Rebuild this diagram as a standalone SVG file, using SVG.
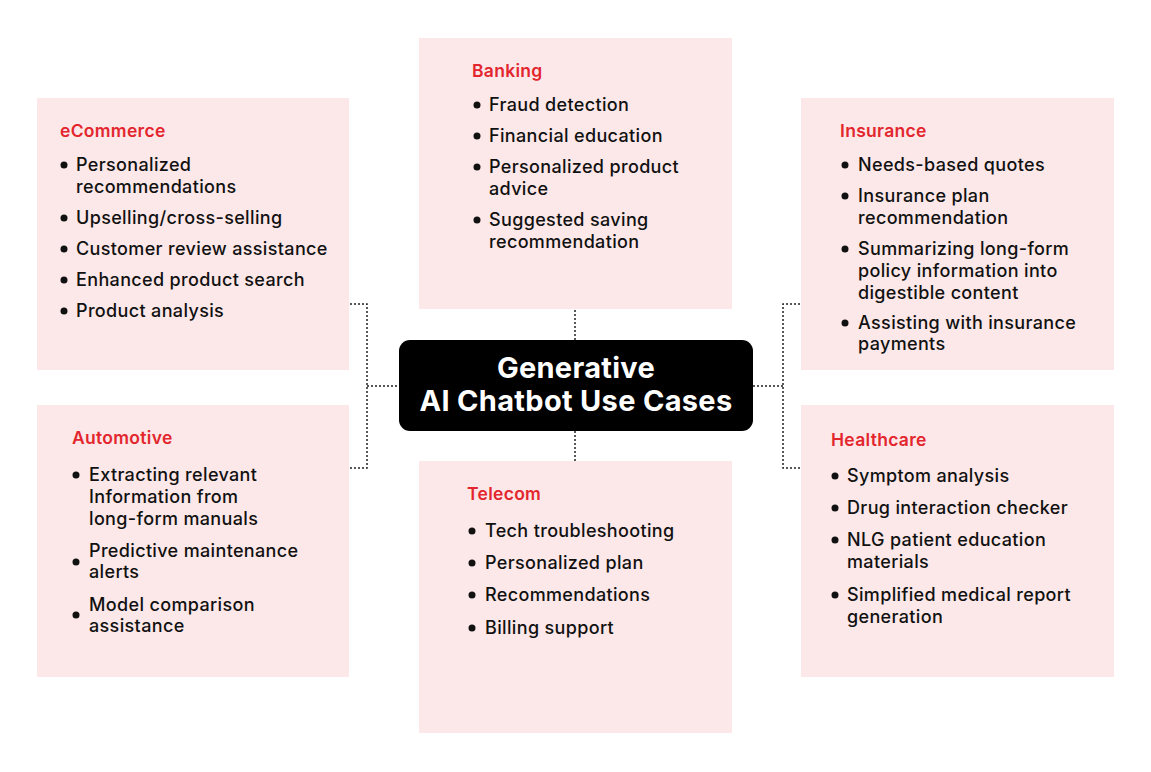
<svg xmlns="http://www.w3.org/2000/svg" width="1151" height="772" viewBox="0 0 1151 772">
<style>
.box{fill:#fce8e8}
.t{font-family:Inter,"Open Sans",sans-serif;font-size:17.5px;font-weight:600;fill:#e3262e;letter-spacing:0.3px}
.i{font-family:Inter,"Open Sans",sans-serif;font-size:18px;font-weight:500;fill:#111;letter-spacing:0.35px}
.c{stroke:#222;stroke-width:1.5;stroke-dasharray:2 2;fill:none}
.ct{font-family:Inter,"Open Sans",sans-serif;font-size:29px;font-weight:700;fill:#fff;text-anchor:middle;letter-spacing:0.3px}
</style>
<rect width="1151" height="772" fill="#fff"/>
<g id="connectors">
<path class="c" d="M350 304H367V468H350M367 386H399"/>
<path class="c" d="M800 304H783V468H800M783 386H753"/>
<path class="c" d="M575 310V340M575 431V461"/>
</g>
<g id="center"><rect x="399" y="340" width="354" height="91" rx="11" fill="#000"/>
<text class="ct" x="576" y="378">Generative</text><text class="ct" x="576" y="411">AI Chatbot Use Cases</text></g>
<g id="ecommerce"><rect class="box" x="37" y="98" width="312" height="272"/>
<text class="t" x="60" y="137">eCommerce</text>
<g fill="#111"><circle cx="64" cy="165" r="3.5"/><circle cx="64" cy="218" r="3.5"/><circle cx="64" cy="249" r="3.5"/><circle cx="64" cy="280" r="3.5"/><circle cx="64" cy="311" r="3.5"/></g>
<text class="i" x="76" y="171">Personalized</text><text class="i" x="76" y="193">recommendations</text>
<text class="i" x="76" y="224">Upselling/cross-selling</text>
<text class="i" x="76" y="255">Customer review assistance</text>
<text class="i" x="76" y="286">Enhanced product search</text>
<text class="i" x="76" y="317">Product analysis</text></g>
<g id="banking"><rect class="box" x="419" y="38" width="313" height="271"/>
<text class="t" x="472" y="77">Banking</text>
<g fill="#111"><circle cx="477" cy="105" r="3.5"/><circle cx="477" cy="136" r="3.5"/><circle cx="477" cy="167" r="3.5"/><circle cx="477" cy="220" r="3.5"/></g>
<text class="i" x="489" y="111">Fraud detection</text>
<text class="i" x="489" y="142">Financial education</text>
<text class="i" x="489" y="173">Personalized product</text><text class="i" x="489" y="195">advice</text>
<text class="i" x="489" y="226">Suggested saving</text><text class="i" x="489" y="248">recommendation</text></g>
<g id="insurance"><rect class="box" x="801" y="98" width="313" height="272"/>
<text class="t" x="840" y="137">Insurance</text>
<g fill="#111"><circle cx="845" cy="165" r="3.5"/><circle cx="845" cy="196" r="3.5"/><circle cx="845" cy="249" r="3.5"/><circle cx="845" cy="323" r="3.5"/></g>
<text class="i" x="858" y="171">Needs-based quotes</text>
<text class="i" x="858" y="202">Insurance plan</text><text class="i" x="858" y="224">recommendation</text>
<text class="i" x="858" y="255">Summarizing long-form</text><text class="i" x="858" y="277">policy information into</text><text class="i" x="858" y="299">digestible content</text>
<text class="i" x="858" y="329">Assisting with insurance</text><text class="i" x="858" y="350">payments</text></g>
<g id="automotive"><rect class="box" x="37" y="405" width="312" height="272"/>
<text class="t" x="72" y="444">Automotive</text>
<g fill="#111"><circle cx="76" cy="475" r="3.5"/><circle cx="76" cy="562" r="3.5"/><circle cx="76" cy="615" r="3.5"/></g>
<text class="i" x="89" y="481">Extracting relevant</text><text class="i" x="89" y="503">Information from</text><text class="i" x="89" y="525">long-form manuals</text>
<text class="i" x="89" y="557">Predictive maintenance</text><text class="i" x="89" y="578">alerts</text>
<text class="i" x="89" y="611">Model comparison</text><text class="i" x="89" y="632">assistance</text></g>
<g id="telecom"><rect class="box" x="419" y="461" width="313" height="272"/>
<text class="t" x="467" y="500">Telecom</text>
<g fill="#111"><circle cx="472" cy="531" r="3.5"/><circle cx="472" cy="563" r="3.5"/><circle cx="472" cy="595" r="3.5"/><circle cx="472" cy="628" r="3.5"/></g>
<text class="i" x="485" y="537">Tech troubleshooting</text>
<text class="i" x="485" y="569">Personalized plan</text>
<text class="i" x="485" y="601">Recommendations</text>
<text class="i" x="485" y="634">Billing support</text></g>
<g id="healthcare"><rect class="box" x="801" y="405" width="313" height="272"/>
<text class="t" x="831" y="446">Healthcare</text>
<g fill="#111"><circle cx="835" cy="476" r="3.5"/><circle cx="835" cy="508" r="3.5"/><circle cx="835" cy="540" r="3.5"/><circle cx="835" cy="595" r="3.5"/></g>
<text class="i" x="847" y="482">Symptom analysis</text>
<text class="i" x="847" y="514">Drug interaction checker</text>
<text class="i" x="847" y="546">NLG patient education</text><text class="i" x="847" y="568">materials</text>
<text class="i" x="847" y="601">Simplified medical report</text><text class="i" x="847" y="623">generation</text></g>
</svg>
